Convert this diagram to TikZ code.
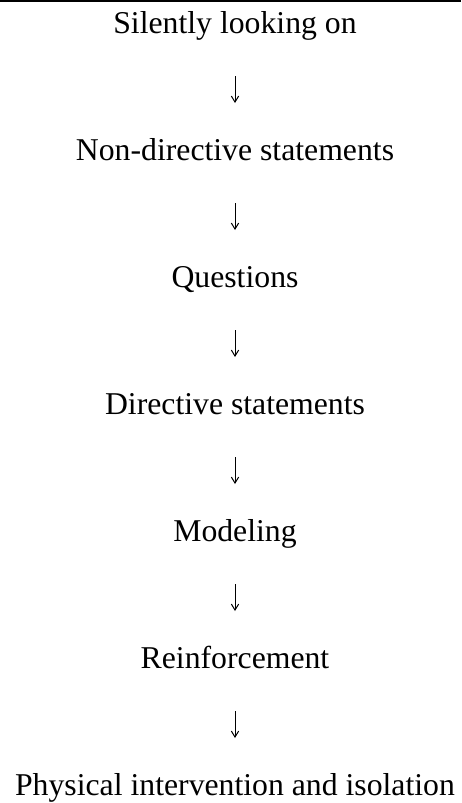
\documentclass[tikz,border=0pt]{standalone}
\usepackage{fontspec}
\setmainfont{Liberation Serif}
\usetikzlibrary{arrows.meta}
\begin{document}
\begin{tikzpicture}[x=0.75pt,y=-0.75pt,
  lbl/.style={anchor=base,inner sep=0pt,font=\fontsize{23.8pt}{28pt}\selectfont},
  flow/.style={-{Straight Barb[length=4.5pt,width=5.5pt]}, line width=0.75pt,
    shorten <=32.25pt, shorten >=42.75pt}]
\useasboundingbox (0,0) rectangle (461,803);
\draw[line width=1.5pt] (0,1) -- (461,1);
\node[lbl] (t1) at (235,33)  {Silently looking on};
\node[lbl] (t2) at (235,160) {Non-directive statements};
\node[lbl] (t3) at (235,287) {Questions};
\node[lbl] (t4) at (235,414) {Directive statements};
\node[lbl] (t5) at (235,541) {Modeling};
\node[lbl] (t6) at (235,668) {Reinforcement};
\node[lbl] (t7) at (235,795) {Physical intervention and isolation};
\foreach \a/\b in {t1/t2,t2/t3,t3/t4,t4/t5,t5/t6,t6/t7}
  \draw[flow] (\a.base) -- (\b.base);
\end{tikzpicture}
\end{document}
